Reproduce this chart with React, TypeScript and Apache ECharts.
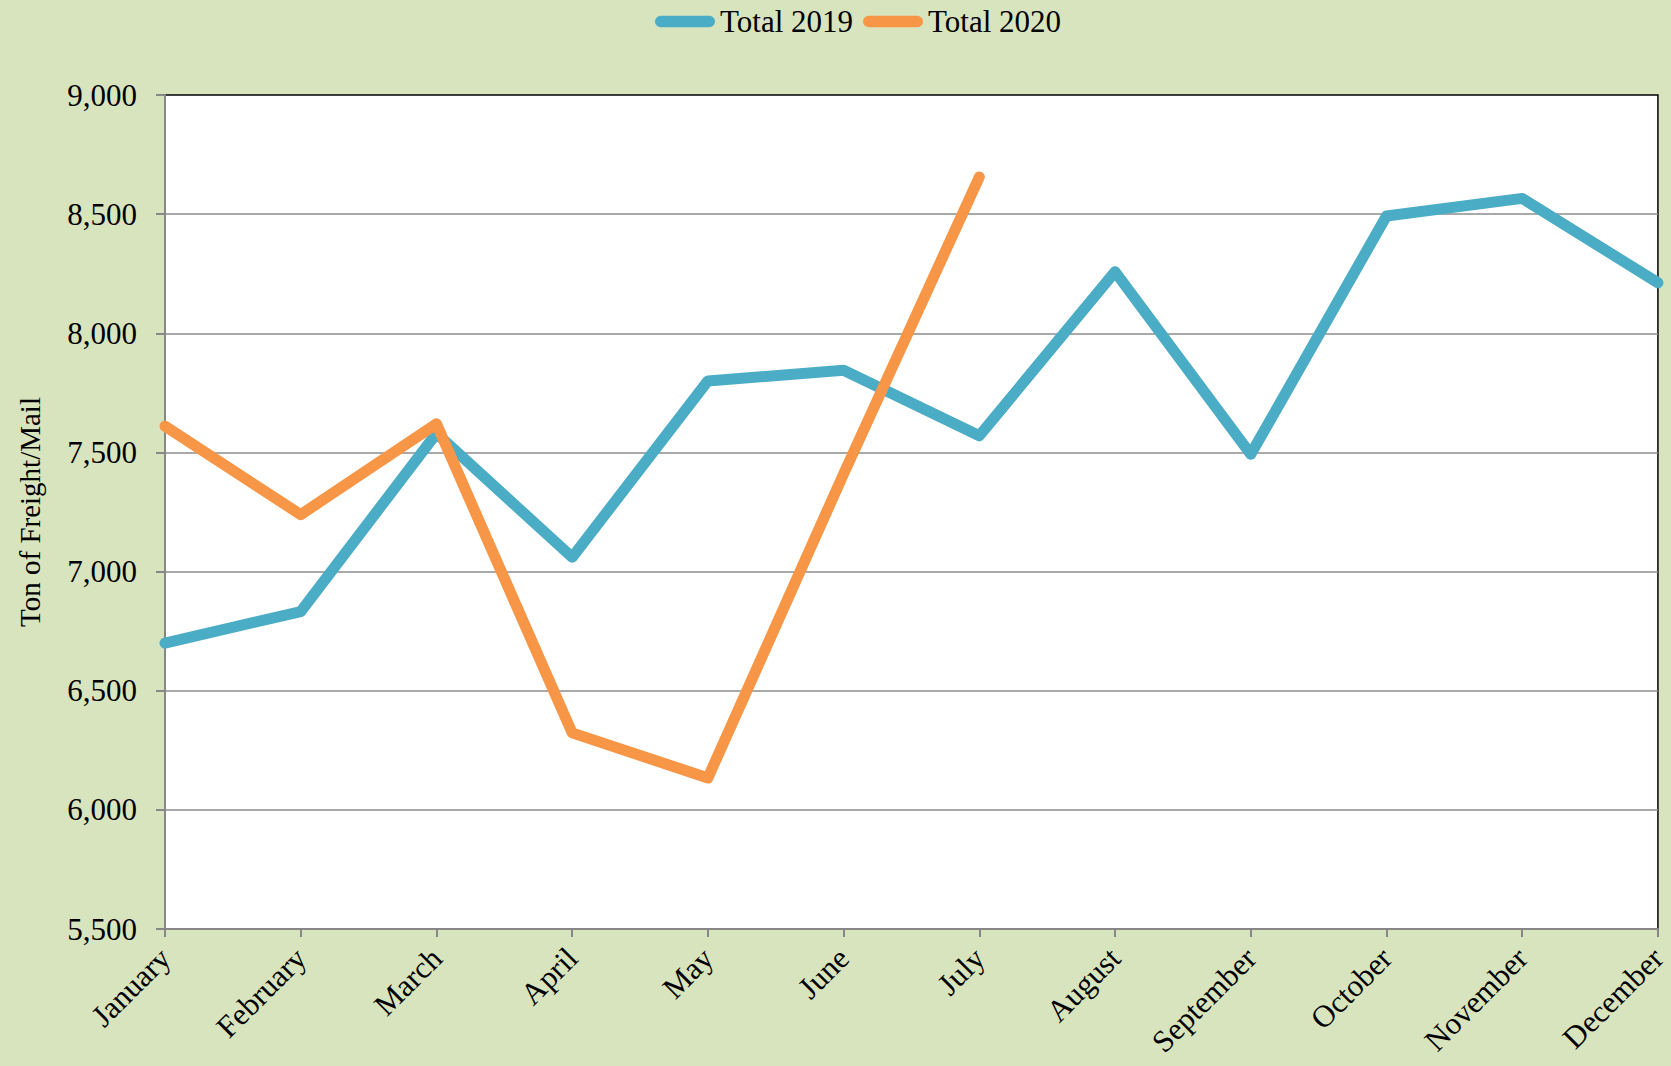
import React, { useEffect, useRef } from "react";
import * as echarts from "echarts";

const months = [
  "January", "February", "March", "April", "May", "June",
  "July", "August", "September", "October", "November", "December",
];
const total2019 = [6700, 6832, 7580, 7060, 7800, 7845, 7570, 8258, 7492, 8492, 8566, 8212];
const total2020 = [7610, 7239, 7620, 6323, 6134, 7410, 8656];
const yMin = 5500;
const yMax = 9000;
const yStep = 500;

const FONT = "'Times New Roman', 'Liberation Serif', serif";
const legendIcon = "path://M6,0 H57 A6,6 0 0 1 57,12 H6 A6,6 0 0 1 6,0 Z";

export default function App() {
  const ref = useRef<HTMLDivElement>(null);
  useEffect(() => {
    document.body.style.margin = "0";
    if (!ref.current) return;
    const chart = echarts.init(ref.current, null, { renderer: "svg" });
    chart.setOption({
      animation: false,
      backgroundColor: "#D8E4BD",
      textStyle: { fontFamily: FONT, color: "#000" },
      legend: {
        top: 1,
        left: 650,
        itemWidth: 60,
        itemHeight: 12,
        itemGap: 10,
        icon: legendIcon,
        textStyle: { fontFamily: FONT, fontSize: 31, color: "#000" },
        data: ["Total 2019", "Total 2020"],
      },
      grid: {
        left: 165,
        right: 9,
        top: 95,
        bottom: 137,
        show: true,
        backgroundColor: "#ffffff",
        borderColor: "#000000",
        borderWidth: 1.5,
      },
      xAxis: {
        type: "category",
        data: months,
        boundaryGap: false,
        axisLine: { lineStyle: { color: "#878787", width: 2 } },
        axisTick: { show: true, length: 8, inside: false, lineStyle: { color: "#878787", width: 2 } },
        axisLabel: {
          rotate: 45,
          margin: 24,
          fontFamily: FONT,
          fontSize: 31,
          color: "#000",
          interval: 0,
        },
        splitLine: { show: false },
      },
      yAxis: {
        type: "value",
        min: yMin,
        max: yMax,
        interval: yStep,
        name: "Ton of Freight/Mail",
        nameLocation: "middle",
        nameGap: 121,
        nameTextStyle: { fontFamily: FONT, fontSize: 29, color: "#000" },
        axisLine: { show: true, lineStyle: { color: "#878787", width: 2 } },
        axisTick: { show: true, length: 9, lineStyle: { color: "#878787", width: 2 } },
        axisLabel: {
          margin: 28,
          fontFamily: FONT,
          fontSize: 31,
          color: "#000",
          formatter: (v: number) => v.toLocaleString("en-US"),
        },
        splitLine: {
          show: true,
          showMaxLine: false,
          showMinLine: false,
          lineStyle: { color: "#8c8c8c", width: 1.5 },
        },
      },
      series: [
        {
          name: "Total 2019",
          type: "line",
          data: total2019,
          showSymbol: false,
          symbol: "none",
          color: "#4BACC6",
          lineStyle: { color: "#4BACC6", width: 11, cap: "round", join: "round" },
          z: 2,
        },
        {
          name: "Total 2020",
          type: "line",
          data: total2020,
          showSymbol: false,
          symbol: "none",
          color: "#F79646",
          lineStyle: { color: "#F79646", width: 11, cap: "round", join: "round" },
          z: 3,
        },
      ],
    });
    return () => chart.dispose();
  }, []);
  return <div ref={ref} style={{ width: 1671, height: 1066 }} />;
}
